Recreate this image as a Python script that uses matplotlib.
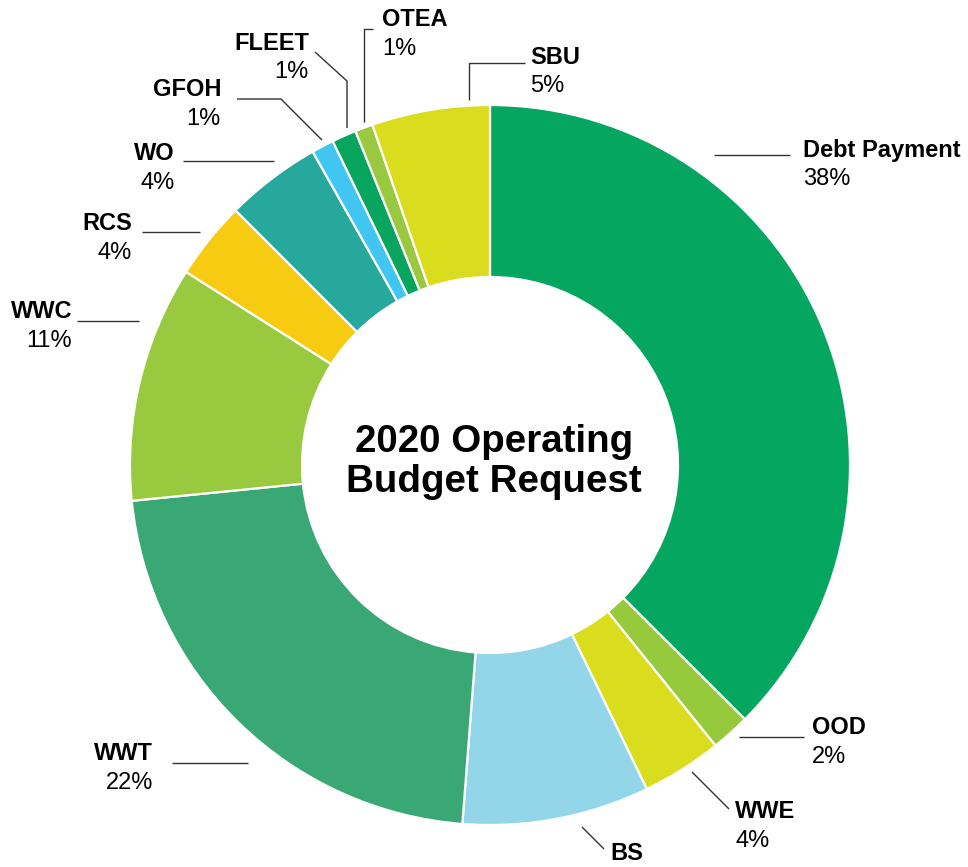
import matplotlib.pyplot as plt

plt.rcParams['font.family'] = ['Liberation Sans', 'DejaVu Sans']

labels = ["Debt Payment", "OOD", "WWE", "BS", "WWT", "WWC", "RCS", "WO",
          "GFOH", "FLEET", "OTEA", "SBU"]
shares = [37.5, 1.75, 3.6, 8.4, 22.2, 10.6, 3.5, 4.3, 1.0, 1.1, 0.8, 5.3]
pct_labels = ["38%", "2%", "4%", "9%", "22%", "11%", "4%", "4%",
              "1%", "1%", "1%", "5%"]
colors = ["#05A660", "#97C93D", "#D9DD1E", "#93D6EA", "#3AA874", "#98C93E",
          "#F6CB12", "#26A89C", "#41C6F2", "#07A55E", "#98C93E", "#D9DD1E"]

W, H = 968, 867
fig = plt.figure(figsize=(W / 100, H / 100), dpi=100)
ax = fig.add_axes([0, 0, 1, 1])


def py(y):
    # pixel row -> data y
    return H - y


ax.pie(shares, colors=colors, startangle=90, counterclock=False,
       radius=360, center=(490, py(465)),
       wedgeprops=dict(width=172, edgecolor="white", linewidth=1.6))

ax.set_xlim(0, W)
ax.set_ylim(0, H)
ax.set_aspect('equal')
ax.axis('off')

ax.text(494, py(462), "2020 Operating\nBudget Request", ha='center', va='center',
        fontsize=27.7, fontweight='bold', linespacing=1.12)

# label anchor (x, y of name line, alignment) and leader polyline, in pixels
label_pos = {
    "Debt Payment": (803, 150, 'left', [(714, 155), (790, 155)]),
    "OOD": (812, 728, 'left', [(739, 737), (804, 737)]),
    "WWE": (735, 812, 'left', [(692, 772), (729, 809)]),
    "BS": (610, 853, 'left', [(582, 827), (604, 849)]),
    "WWT": (153, 754, 'right', [(172, 763), (248, 763)]),
    "WWC": (72, 312, 'right', [(77, 321), (139, 321)]),
    "RCS": (132, 224, 'right', [(142, 232), (200, 232)]),
    "WO": (175, 154, 'right', [(183, 161), (274, 161)]),
    "GFOH": (221, 90, 'right', [(237, 99), (281, 99), (322, 140)]),
    "FLEET": (309, 43, 'right', [(315, 52), (347, 81), (347, 128)]),
    "OTEA": (382, 20, 'left', [(364, 122), (364, 29), (373, 29)]),
    "SBU": (530, 57, 'left', [(469, 100), (469, 63), (525, 63)]),
}

for name, pct in zip(labels, pct_labels):
    x, y, ha, line = label_pos[name]
    ax.text(x, py(y), name, ha=ha, va='center', fontsize=17, fontweight='bold')
    ax.text(x, py(y + 29), pct, ha=ha, va='center', fontsize=17)
    ax.plot([p[0] for p in line], [py(p[1]) for p in line],
            color="#333333", linewidth=1.0, solid_capstyle='butt')

plt.savefig("out.png", dpi=100)
